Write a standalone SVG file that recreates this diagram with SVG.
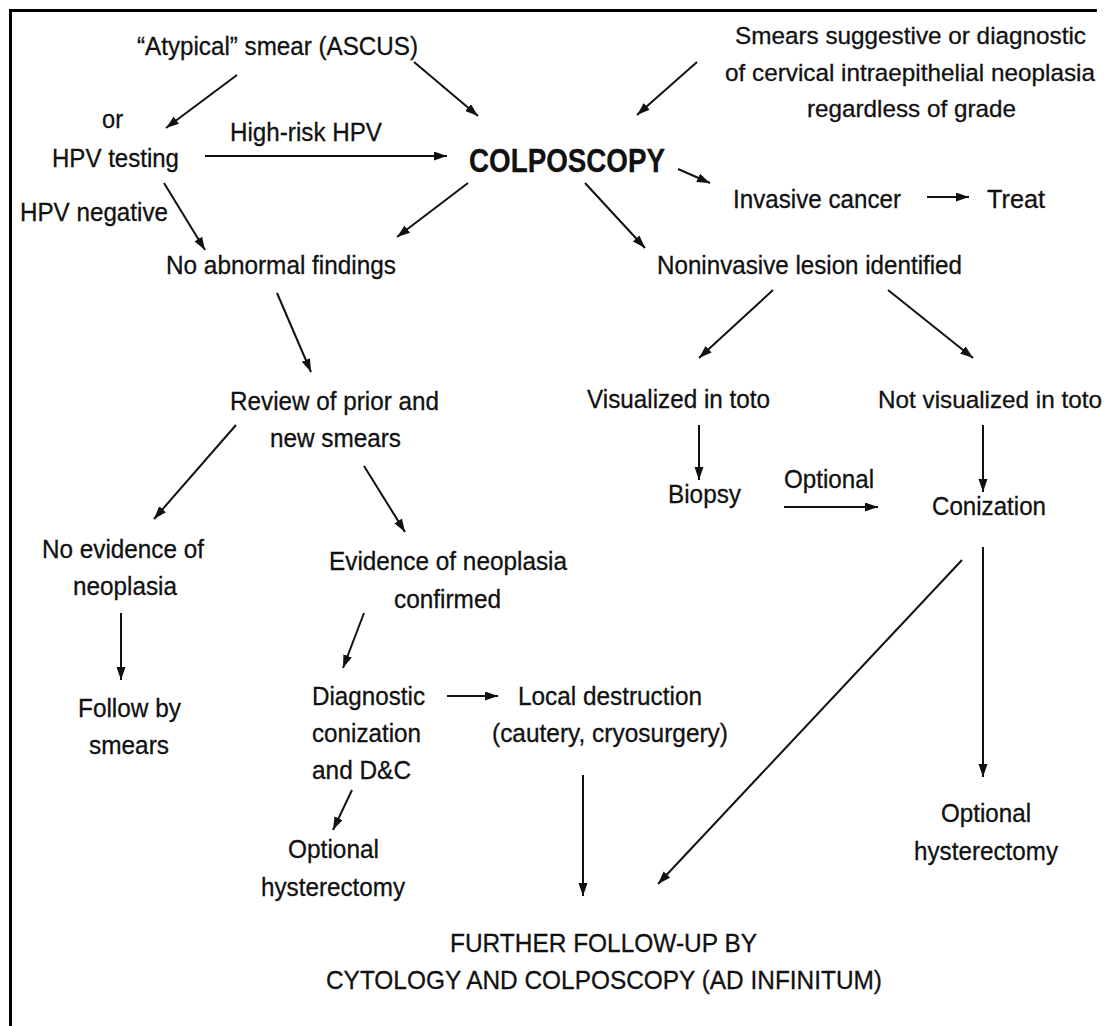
<svg xmlns="http://www.w3.org/2000/svg" width="1106" height="1026" viewBox="0 0 1106 1026">
<defs>
<marker id="ah" markerUnits="userSpaceOnUse" markerWidth="14" markerHeight="10" refX="13" refY="4.5" orient="auto">
<path d="M0,0 L13,4.5 L0,9 z" fill="#111"/>
</marker>
<style>
text{font-family:"Liberation Sans",Arial,Helvetica,sans-serif;font-size:26px;fill:#111;stroke:#111;stroke-width:0.3}
.b{font-weight:bold;font-size:33px}
.s{font-size:24.5px}
.c line{stroke:#111;stroke-width:2;marker-end:url(#ah)}
.frame{stroke:#000;stroke-width:3;fill:none}
</style>
</defs>
<rect width="1106" height="1026" fill="#fff"/>
<path class="frame" d="M9,10.5 H1097 M10.5,9 V1026"/>

<g id="atypical"><text x="137" y="55" textLength="281" lengthAdjust="spacingAndGlyphs">“Atypical” smear (ASCUS)</text></g>
<g id="smears">
<text class="s" x="735" y="44" textLength="351" lengthAdjust="spacingAndGlyphs">Smears suggestive or diagnostic</text>
<text class="s" x="725" y="81" textLength="370" lengthAdjust="spacingAndGlyphs">of cervical intraepithelial neoplasia</text>
<text class="s" x="807" y="117" textLength="209" lengthAdjust="spacingAndGlyphs">regardless of grade</text>
</g>
<g id="or"><text x="102" y="128" textLength="21" lengthAdjust="spacingAndGlyphs">or</text></g>
<g id="hpvtesting"><text x="52" y="167" textLength="127" lengthAdjust="spacingAndGlyphs">HPV testing</text></g>
<g id="lbl-highrisk"><text x="230" y="141" textLength="152" lengthAdjust="spacingAndGlyphs">High-risk HPV</text></g>
<g id="colposcopy"><text class="b" x="469" y="172" textLength="196" lengthAdjust="spacingAndGlyphs">COLPOSCOPY</text></g>
<g id="invasive"><text x="733" y="208" textLength="168" lengthAdjust="spacingAndGlyphs">Invasive cancer</text></g>
<g id="treat"><text x="987" y="208" textLength="58" lengthAdjust="spacingAndGlyphs">Treat</text></g>
<g id="lbl-hpvneg"><text x="20" y="221" textLength="148" lengthAdjust="spacingAndGlyphs">HPV negative</text></g>
<g id="noabnormal"><text x="166" y="274" textLength="230" lengthAdjust="spacingAndGlyphs">No abnormal findings</text></g>
<g id="noninvasive"><text x="657" y="274" textLength="305" lengthAdjust="spacingAndGlyphs">Noninvasive lesion identified</text></g>
<g id="review">
<text x="230" y="410" textLength="209" lengthAdjust="spacingAndGlyphs">Review of prior and</text>
<text x="270" y="447" textLength="131" lengthAdjust="spacingAndGlyphs">new smears</text>
</g>
<g id="visualized"><text x="587" y="408" textLength="183" lengthAdjust="spacingAndGlyphs">Visualized in toto</text></g>
<g id="notvisualized"><text class="s" x="878" y="408" textLength="224" lengthAdjust="spacingAndGlyphs">Not visualized in toto</text></g>
<g id="biopsy"><text x="668" y="503" textLength="73" lengthAdjust="spacingAndGlyphs">Biopsy</text></g>
<g id="lbl-optional"><text x="784" y="488" textLength="90" lengthAdjust="spacingAndGlyphs">Optional</text></g>
<g id="conization"><text x="932" y="515" textLength="114" lengthAdjust="spacingAndGlyphs">Conization</text></g>
<g id="noevidence">
<text x="42" y="558" textLength="162" lengthAdjust="spacingAndGlyphs">No evidence of</text>
<text x="73" y="595" textLength="104" lengthAdjust="spacingAndGlyphs">neoplasia</text>
</g>
<g id="evidence">
<text x="329" y="570" textLength="238" lengthAdjust="spacingAndGlyphs">Evidence of neoplasia</text>
<text x="394" y="608" textLength="107" lengthAdjust="spacingAndGlyphs">confirmed</text>
</g>
<g id="followby">
<text x="78" y="717" textLength="103" lengthAdjust="spacingAndGlyphs">Follow by</text>
<text x="89" y="754" textLength="80" lengthAdjust="spacingAndGlyphs">smears</text>
</g>
<g id="diagnostic">
<text x="312" y="705" textLength="113" lengthAdjust="spacingAndGlyphs">Diagnostic</text>
<text x="312" y="742" textLength="109" lengthAdjust="spacingAndGlyphs">conization</text>
<text x="312" y="779" textLength="99" lengthAdjust="spacingAndGlyphs">and D&amp;C</text>
</g>
<g id="local">
<text x="518" y="705" textLength="184" lengthAdjust="spacingAndGlyphs">Local destruction</text>
<text x="492" y="742" textLength="236" lengthAdjust="spacingAndGlyphs">(cautery, cryosurgery)</text>
</g>
<g id="hyst-left">
<text x="288" y="858" textLength="91" lengthAdjust="spacingAndGlyphs">Optional</text>
<text x="261" y="896" textLength="144" lengthAdjust="spacingAndGlyphs">hysterectomy</text>
</g>
<g id="hyst-right">
<text x="941" y="822" textLength="90" lengthAdjust="spacingAndGlyphs">Optional</text>
<text x="914" y="860" textLength="144" lengthAdjust="spacingAndGlyphs">hysterectomy</text>
</g>
<g id="further">
<text x="450" y="952" textLength="307" lengthAdjust="spacingAndGlyphs">FURTHER FOLLOW-UP BY</text>
<text x="326" y="989" textLength="556" lengthAdjust="spacingAndGlyphs">CYTOLOGY AND COLPOSCOPY (AD INFINITUM)</text>
</g>

<g id="connectors" class="c">
<line x1="237" y1="75" x2="166" y2="128"/>
<line x1="414" y1="62" x2="478" y2="116"/>
<line x1="697" y1="62" x2="637" y2="115"/>
<line x1="205" y1="156" x2="447" y2="156"/>
<line x1="164" y1="183" x2="205" y2="250"/>
<line x1="468" y1="183" x2="397" y2="237"/>
<line x1="678" y1="169" x2="710" y2="183"/>
<line x1="927" y1="197" x2="969" y2="197"/>
<line x1="585" y1="183" x2="645" y2="248"/>
<line x1="277" y1="293" x2="311" y2="372"/>
<line x1="773" y1="290" x2="699" y2="358"/>
<line x1="888" y1="290" x2="973" y2="358"/>
<line x1="236" y1="425" x2="154" y2="519"/>
<line x1="364" y1="466" x2="405" y2="532"/>
<line x1="699" y1="425" x2="699" y2="480"/>
<line x1="983" y1="425" x2="983" y2="492"/>
<line x1="784" y1="507" x2="878" y2="507"/>
<line x1="121" y1="613" x2="121" y2="680"/>
<line x1="364" y1="613" x2="343" y2="668"/>
<line x1="447" y1="696" x2="498" y2="696"/>
<line x1="352" y1="790" x2="333" y2="830"/>
<line x1="583" y1="775" x2="583" y2="896"/>
<line x1="962" y1="560" x2="658" y2="884"/>
<line x1="983" y1="547" x2="983" y2="777"/>
</g>
</svg>
